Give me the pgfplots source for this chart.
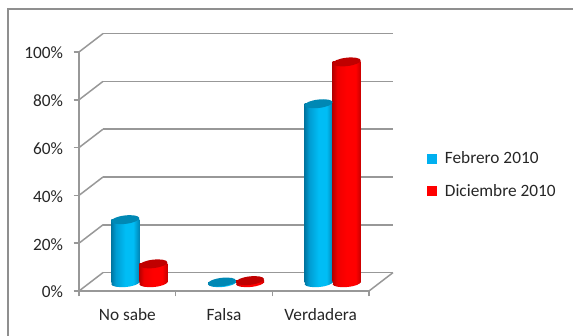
\documentclass[border=0pt]{standalone}
\usepackage{pgfplots}
\usepackage{pgfplotstable}
\pgfplotsset{compat=1.18}
\usepackage{fontspec}
\setmainfont{Carlito}
\definecolor{framegray}{HTML}{8F8F8F}
\definecolor{wallgray}{HTML}{989898}
\definecolor{txt}{HTML}{262626}
\definecolor{capblue}{HTML}{0088B4}
\definecolor{capred}{HTML}{C00000}
\definecolor{blueA}{HTML}{0077A3}
\definecolor{blueB}{HTML}{009CD2}
\definecolor{blueC}{HTML}{00BDF5}
\definecolor{blueD}{HTML}{0086B6}
\definecolor{redA}{HTML}{B80000}
\definecolor{redB}{HTML}{EE0000}
\definecolor{redC}{HTML}{FF0000}
\definecolor{redD}{HTML}{C80000}
\definecolor{keyblue}{HTML}{00B0F0}
\pgfdeclarehorizontalshading{cylblue}{100bp}{
  color(0bp)=(blueA);color(25bp)=(blueA);color(33bp)=(blueB);
  color(50bp)=(blueC);color(64bp)=(blueC);color(75bp)=(blueD);color(100bp)=(blueD)}
\pgfdeclarehorizontalshading{cylred}{100bp}{
  color(0bp)=(redA);color(25bp)=(redA);color(33bp)=(redB);
  color(50bp)=(redC);color(66bp)=(redC);color(75bp)=(redD);color(100bp)=(redD)}
% Elliptic ends of the cylinders, tilted slightly upward to the right
\pgfdeclareplotmark{cylcap}{\pgfpathellipse{\pgfpointorigin}{\pgfpoint{14pt}{1.6pt}}{\pgfpoint{-0.4pt}{4.2pt}}\pgfusepathqfill}
\pgfdeclareplotmark{cylbaseblue}{\pgfpathellipse{\pgfpointorigin}{\pgfpoint{14pt}{1.2pt}}{\pgfpoint{-0.4pt}{4pt}}\pgfshadepath{cylblue}{0}\pgfusepath{discard}}
\pgfdeclareplotmark{cylbasered}{\pgfpathellipse{\pgfpointorigin}{\pgfpoint{14pt}{1.2pt}}{\pgfpoint{-0.4pt}{4pt}}\pgfshadepath{cylred}{0}\pgfusepath{discard}}
\pgfplotstableread{
x  feb  dic  base
0  26.5  8.0  0
1  0.4   1.0  0
2  75.0  92.5 0
}\shares
\pgfplotsset{
  plane/.style={scale only axis,width=290pt,height=239pt,xmin=0,xmax=3,ymin=0,ymax=100},
  febbar/.style={ybar,draw=none,bar width=28pt,bar shift=-14pt,shade,shading=cylblue,forget plot},
  dicbar/.style={ybar,draw=none,bar width=28pt,bar shift=14pt,shade,shading=cylred,forget plot},
}
\begin{document}
\begin{tikzpicture}[x=1pt,y=1pt]
\useasboundingbox (0,0) rectangle (573,336);
% chart frame: left and top edges only
\draw[framegray,line width=1.5pt] (8,-1) -- (8,327) -- (574,327);

% back wall grid
\begin{axis}[plane,at={(103pt,63.4pt)},anchor=south west,axis line style={draw=none},
  xtick=\empty,ytick={0,20,...,100},yticklabels={},major tick length=0pt,
  ymajorgrids,grid style={wallgray,line width=1.5pt}]
\end{axis}
% side wall and floor edges
\foreach \v in {0,20,...,100}
  \draw[wallgray,line width=1.5pt] (79,45+2.39*\v) -- (103,63.4+2.39*\v);
\draw[wallgray,line width=1.5pt] (369,45) -- (393,63.4);

% front axes with percentage ticks and category names
\begin{axis}[plane,at={(79pt,45pt)},anchor=south west,
  axis x line*=bottom,axis y line*=left,
  axis line style={wallgray,line width=1.5pt,-},
  tick style={wallgray,line width=1.5pt},
  tick align=outside,major tick length=5.5pt,
  xtick={0,1,2,3},x tick label as interval,xticklabels={No sabe,Falsa,Verdadera},
  ytick={0,20,...,100},yticklabel={\pgfmathprintnumber{\tick}\%},
  /pgf/number format/assume math mode=true,
  tick label style={font=\fontsize{17.3}{20}\selectfont,text=txt},
  xticklabel style={yshift=-8.5pt},
  yticklabel style={xshift=-7pt,yshift=-1pt}]
\end{axis}

% cylinders, standing halfway into the floor; each bar is its own path so that
% the shading spans a single cylinder
\begin{axis}[plane,at={(91pt,53pt)},anchor=south west,hide axis,clip=false,
  legend style={at={(1.1586,0.454)},anchor=west,draw=none,fill=none,
    font=\fontsize{17.3}{20}\selectfont,text=txt,row sep=15pt,
    legend cell align=left,inner sep=0pt},
  legend image code/.code={\fill[#1] (0pt,-4.5pt) rectangle (9pt,4.5pt);\path[draw=none,fill=none] (0pt,0pt) -- (15.5pt,0pt);}]
\addlegendimage{keyblue,fill=keyblue}
\addlegendentry{Febrero 2010}
\addlegendimage{redC,fill=redC}
\addlegendentry{Diciembre 2010}
\addplot[only marks,mark=cylbaseblue,forget plot] table[x expr=\thisrow{x}+0.355,y=base]{\shares};
\addplot[only marks,mark=cylbasered,forget plot] table[x expr=\thisrow{x}+0.645,y=base]{\shares};
\addplot[febbar] coordinates {(0.5,26.5)};
\addplot[febbar] coordinates {(1.5,0.4)};
\addplot[febbar] coordinates {(2.5,75.0)};
\addplot[dicbar] coordinates {(0.5,8.0)};
\addplot[dicbar] coordinates {(1.5,1.0)};
\addplot[dicbar] coordinates {(2.5,92.5)};
\addplot[only marks,mark=cylcap,color=capblue,forget plot] table[x expr=\thisrow{x}+0.355,y=feb]{\shares};
\addplot[only marks,mark=cylcap,color=capred,forget plot] table[x expr=\thisrow{x}+0.645,y=dic]{\shares};
\end{axis}
\end{tikzpicture}
\end{document}
